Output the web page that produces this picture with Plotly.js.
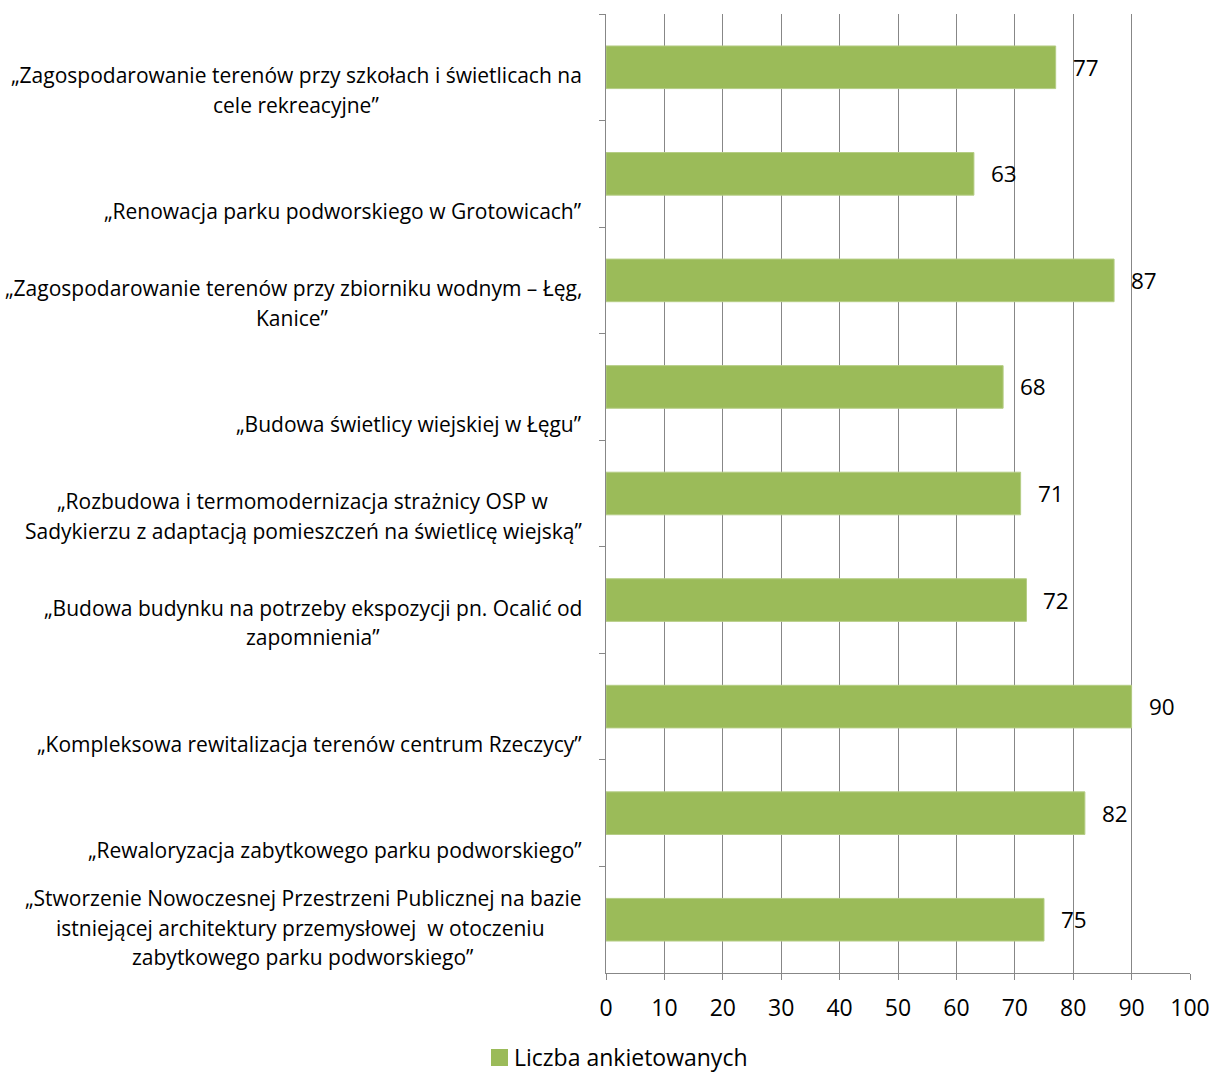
<!DOCTYPE html>
<html>
<head>
<meta charset="utf-8">
<script src="https://cdn.plot.ly/plotly-3.0.1.min.js"></script>
<style>html,body{margin:0;padding:0;background:#fff;}</style>
</head>
<body>
<div id="chart" style="width:1215px;height:1075px;"></div>
<script>
const categories = [
  "„Zagospodarowanie terenów przy szkołach i świetlicach na<br>cele rekreacyjne”",
  "„Renowacja parku podworskiego w Grotowicach”",
  "„Zagospodarowanie terenów przy zbiorniku wodnym – Łęg,<br>Kanice”",
  "„Budowa świetlicy wiejskiej w Łęgu”",
  "„Rozbudowa i termomodernizacja strażnicy OSP w<br>Sadykierzu z adaptacją pomieszczeń na świetlicę wiejską”",
  "„Budowa budynku na potrzeby ekspozycji pn. Ocalić od<br>zapomnienia”",
  "„Kompleksowa rewitalizacja terenów centrum Rzeczycy”",
  "„Rewaloryzacja zabytkowego parku podworskiego”",
  "„Stworzenie Nowoczesnej Przestrzeni Publicznej na bazie<br>istniejącej architektury przemysłowej  w otoczeniu<br>zabytkowego parku podworskiego”"
];
const values = [77, 63, 87, 68, 71, 72, 90, 82, 75];
const seriesName = "Liczba ankietowanych";
const xTicks = [0, 10, 20, 30, 40, 50, 60, 70, 80, 90, 100];

const FONT = "'Open Sans', sans-serif";
const LABEL_SIZE = 21;
const BAR_COLOR = "#9BBB59";
const ids = categories.map((c, i) => "c" + i);

// plot-area geometry (pixels)
const W = 1215, H = 1075, L = 606, R = 25, T = 14, B = 102;
const PW = W - L - R, PH = H - T - B;
const px2x = px => (px - L) / PW;
const py2y = py => (H - B - py) / PH;

const cv = document.createElement("canvas").getContext("2d");
cv.font = LABEL_SIZE + "px 'Open Sans'";
function tw(s) { return cv.measureText(s.replace(/  +/g, " ")).width; }

const annotations = [];
categories.forEach((c, i) => {
  const lines = c.split("<br>");
  const n = lines.length;
  const widths = lines.map(tw);
  const maxW = Math.max(...widths);
  lines.forEach((ln, j) => {
    annotations.push({
      xref: "paper", yref: "y",
      x: 0, y: i + 0.5,
      xanchor: "right", yanchor: "middle",
      xshift: -22 - (maxW - widths[j]) / 2, yshift: 16 + 29.5 * (n - 1 - j),
      text: ln, showarrow: false, align: "center",
      font: {family: FONT, size: LABEL_SIZE, color: "#000"}
    });
  });
});
values.forEach((v, i) => {
  annotations.push({
    xref: "x", yref: "y", x: v, y: ids[i],
    xanchor: "left", yanchor: "middle", xshift: 15,
    text: String(v), showarrow: false,
    font: {family: FONT, size: 22.5, color: "#000"}
  });
});
// legend entry
annotations.push({
  xref: "paper", yref: "paper", x: px2x(512), y: py2y(1057),
  xanchor: "left", yanchor: "middle", text: seriesName, showarrow: false,
  font: {family: FONT, size: 23, color: "#000"}
});
const shapes = [{
  type: "rect", xref: "paper", yref: "paper",
  x0: px2x(491), x1: px2x(508), y0: py2y(1066), y1: py2y(1049),
  fillcolor: BAR_COLOR, line: {width: 0}
}];

const trace = {
  type: "bar", orientation: "h",
  y: ids, x: values, name: seriesName,
  marker: {color: BAR_COLOR, line: {color: "#B5CD85", width: 1}},
  width: 0.4, hoverinfo: "none", showlegend: false
};

const layout = {
  width: W, height: H,
  margin: {l: L, r: R, t: T, b: B, pad: 0},
  paper_bgcolor: "#fff", plot_bgcolor: "#fff",
  font: {family: FONT, color: "#000"},
  xaxis: {
    range: [0, 100], tickvals: xTicks, ticktext: xTicks.map(String),
    showgrid: true, gridcolor: "#878787", gridwidth: 1,
    showline: true, linecolor: "#878787", linewidth: 1,
    ticks: "outside", ticklen: 6, tickcolor: "#878787",
    zeroline: false, fixedrange: true,
    tickfont: {family: FONT, size: 23, color: "#000"},
    ticklabelstandoff: 8
  },
  yaxis: {
    type: "category", categoryorder: "array", categoryarray: ids,
    range: [ids.length - 0.5, -0.5], autorange: false, showticklabels: false,
    showline: true, linecolor: "#878787", linewidth: 1,
    ticks: "outside", ticklen: 6, tickcolor: "#878787", tickson: "boundaries",
    showgrid: false, zeroline: false, fixedrange: true
  },
  showlegend: false,
  bargap: 0.6,
  annotations: annotations,
  shapes: shapes
};

Plotly.newPlot("chart", [trace], layout, {displayModeBar: false, staticPlot: true});
</script>
</body>
</html>
